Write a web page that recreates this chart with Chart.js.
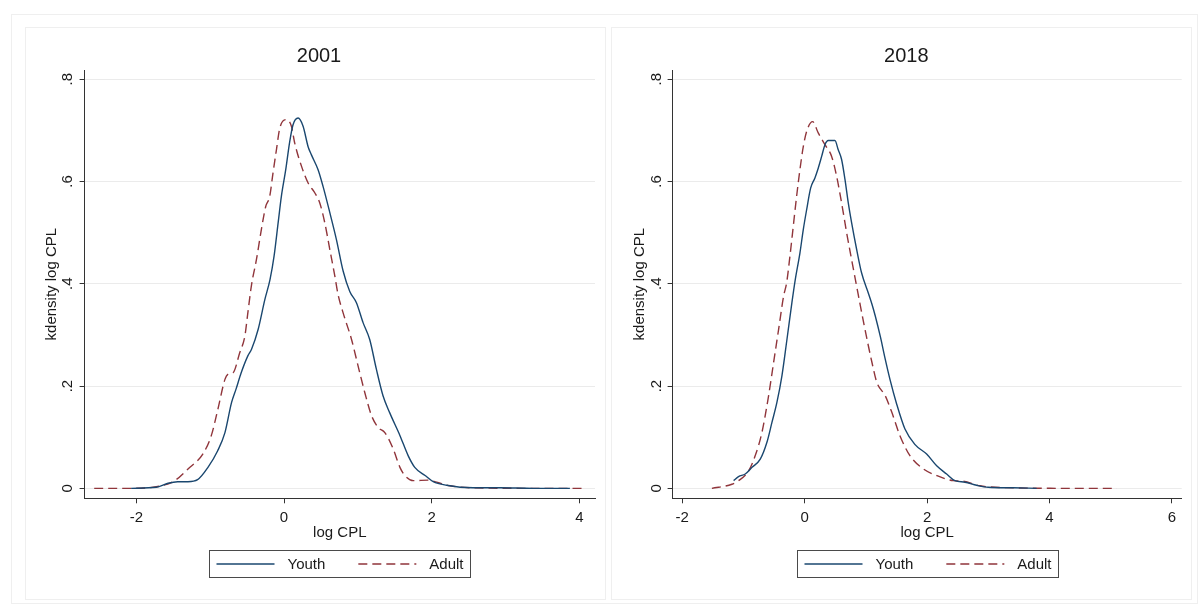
<!DOCTYPE html>
<html>
<head>
<meta charset="utf-8">
<title>kdensity log CPL</title>
<script src="https://cdn.jsdelivr.net/npm/chart.js@4"></script>
<style>
  body { margin: 0; background: #fff; width: 1200px; height: 604px; position: relative; overflow: hidden; }
  .frame { position: absolute; border: 1px solid #efefef; box-sizing: border-box; }
  canvas { position: absolute; top: 0; }
</style>
</head>
<body>
<div class="frame" style="left:11px;top:14px;width:1187px;height:590px;"></div>
<div class="frame" style="left:25px;top:27px;width:581px;height:573px;"></div>
<div class="frame" style="left:611px;top:27px;width:581px;height:573px;"></div>
<canvas id="chart2001" width="600" height="604" style="left:0"></canvas>
<canvas id="chart2018" width="600" height="604" style="left:600px"></canvas>
<script>
/* DATA */
const youth2001X = [-2.07,-1.73,-1.57,-1.44,-1.30,-1.17,-1.03,-0.90,-0.80,-0.71,-0.65,-0.58,-0.49,-0.44,-0.35,-0.26,-0.19,-0.135,-0.08,-0.036,0.023,0.077,0.122,0.19,0.258,0.326,0.371,0.461,0.529,0.62,0.71,0.80,0.89,0.98,1.07,1.16,1.25,1.34,1.43,1.57,1.68,1.77,1.91,2.02,2.20,2.56,2.93,3.38,3.87];
const youth2001Y = [0,0.002,0.010,0.013,0.013,0.017,0.041,0.073,0.109,0.168,0.194,0.226,0.259,0.272,0.311,0.369,0.408,0.454,0.519,0.571,0.623,0.678,0.711,0.724,0.708,0.668,0.652,0.623,0.590,0.539,0.486,0.425,0.385,0.363,0.324,0.291,0.233,0.181,0.148,0.103,0.064,0.041,0.025,0.013,0.006,0.001,0.001,0,0];

const adult2001X = [-2.57,-2.02,-1.66,-1.48,-1.30,-1.10,-0.985,-0.895,-0.80,-0.76,-0.69,-0.60,-0.53,-0.49,-0.44,-0.374,-0.307,-0.248,-0.194,-0.149,-0.103,-0.058,0.023,0.10,0.145,0.236,0.326,0.416,0.484,0.552,0.62,0.688,0.73,0.80,0.914,1.003,1.094,1.185,1.275,1.365,1.478,1.569,1.637,1.75,1.953,2.066,2.247,2.56,3.2,4.08];
const adult2001Y = [0,0,0.005,0.015,0.038,0.067,0.103,0.155,0.213,0.223,0.226,0.265,0.298,0.343,0.398,0.447,0.506,0.551,0.571,0.617,0.662,0.704,0.721,0.708,0.675,0.63,0.597,0.578,0.558,0.519,0.467,0.415,0.38,0.343,0.291,0.239,0.187,0.142,0.119,0.109,0.077,0.041,0.025,0.015,0.016,0.012,0.005,0.001,0,0];

const youth2018X = [-1.16,-1.08,-0.97,-0.86,-0.725,-0.616,-0.534,-0.453,-0.371,-0.289,-0.208,-0.153,-0.077,-0.022,0.033,0.098,0.168,0.222,0.278,0.332,0.386,0.495,0.549,0.604,0.659,0.713,0.768,0.85,0.931,1.04,1.10,1.154,1.24,1.312,1.394,1.503,1.639,1.80,1.993,2.157,2.32,2.456,2.62,2.81,3.0,3.41,3.79];
const youth2018Y = [0.015,0.023,0.028,0.041,0.057,0.09,0.129,0.168,0.22,0.291,0.363,0.408,0.460,0.506,0.545,0.587,0.607,0.626,0.649,0.672,0.680,0.680,0.662,0.643,0.604,0.558,0.519,0.467,0.421,0.382,0.36,0.337,0.295,0.255,0.213,0.165,0.116,0.086,0.067,0.044,0.028,0.015,0.012,0.006,0.002,0.001,0];

const adult2018X = [-1.515,-1.188,-1.08,-0.915,-0.807,-0.698,-0.589,-0.507,-0.425,-0.343,-0.294,-0.24,-0.186,-0.131,-0.077,-0.022,0.033,0.13,0.222,0.332,0.441,0.523,0.604,0.686,0.768,0.85,0.964,1.10,1.18,1.317,1.42,1.557,1.72,1.938,2.157,2.428,2.59,2.865,3.41,4.2,5.10];
const adult2018Y = [0,0.008,0.015,0.034,0.064,0.109,0.181,0.246,0.311,0.376,0.402,0.454,0.512,0.571,0.623,0.668,0.698,0.717,0.695,0.672,0.649,0.610,0.558,0.50,0.447,0.395,0.324,0.246,0.207,0.181,0.15,0.103,0.064,0.038,0.025,0.015,0.014,0.005,0.001,0,0];

// Tick values and labels
const yTickValues = [0, 0.2, 0.4, 0.6, 0.8];
const yTickLabels = ['0', '.2', '.4', '.6', '.8'];
const xTicks2001 = [-2, 0, 2, 4];
const xTicks2018 = [-2, 0, 2, 4, 6];

const seriesNames = ['Youth', 'Adult'];
const FONT = 'Arial, "Liberation Sans", sans-serif';
const TEXT = '#1a1a1a';

Chart.defaults.font.family = FONT;
Chart.defaults.color = TEXT;

/*****************************************************************/

/* LEGEND WITH A BOX ROUND IT */
const boxLegend = {
    id: 'boxLegend',
    afterDraw(chart) {
        const ctx = chart.ctx;
        const area = chart.chartArea;
        const sets = chart.data.datasets;
        const sample = 58, gap = 13, between = 33, inner = 7, h = 27;

        ctx.save();
        ctx.font = '15px ' + FONT;
        const widths = sets.map(ds => ctx.measureText(ds.label).width);
        let total = inner * 2 + between * (sets.length - 1);
        widths.forEach(w => total += sample + gap + w);
        total = Math.round(total);

        const left = Math.round((area.left + area.right) / 2 - total / 2) + 0.5;
        const top = chart.height - 53.5;
        ctx.strokeStyle = '#4a4a4a';
        ctx.lineWidth = 1;
        ctx.strokeRect(left, top, total, h);

        let x = left + inner;
        const yMid = top + h / 2;
        sets.forEach((ds, i) => {
            ctx.strokeStyle = ds.borderColor;
            ctx.lineWidth = ds.borderWidth;
            ctx.setLineDash(ds.borderDash || []);
            ctx.beginPath();
            ctx.moveTo(x, yMid);
            ctx.lineTo(x + sample, yMid);
            ctx.stroke();
            ctx.setLineDash([]);
            x += sample + gap;
            ctx.fillStyle = TEXT;
            ctx.textBaseline = 'middle';
            ctx.fillText(ds.label, x, yMid + 0.5);
            x += widths[i] + between;
        });
        ctx.restore();
    }
};

/*****************************************************************/

/* ONE PANEL */
function toPoints(xs, ys) {
    return xs.map((x, i) => ({ x: x, y: ys[i] }));
}

function makePanel(canvasId, year, youthX, youthY, adultX, adultY, xTicks, xMin, xMax, pad) {
    const context = document.getElementById(canvasId).getContext('2d');
    return new Chart(context, {
        type: 'line',
        data: {
            datasets: [{
                label: seriesNames[0],
                data: toPoints(youthX, youthY),
                borderColor: '#1a476f',
                borderWidth: 1.4,
                pointRadius: 0,
                cubicInterpolationMode: 'monotone',
                fill: false
            }, {
                label: seriesNames[1],
                data: toPoints(adultX, adultY),
                borderColor: '#90353b',
                borderWidth: 1.4,
                borderDash: [9, 5],
                pointRadius: 0,
                cubicInterpolationMode: 'monotone',
                fill: false
            }]
        },
        options: {
            responsive: false,
            animation: false,
            devicePixelRatio: 1,
            layout: { padding: { left: pad.left, right: pad.right, top: 44, bottom: 63.5 } },
            plugins: {
                legend: { display: false },
                tooltip: { enabled: false },
                title: {
                    display: true,
                    text: year,
                    color: TEXT,
                    font: { size: 20, weight: 'normal', lineHeight: 1.2 },
                    padding: { top: 0, bottom: 2 }
                }
            },
            scales: {
                x: {
                    type: 'linear',
                    min: xMin,
                    max: xMax,
                    afterBuildTicks: axis => { axis.ticks = xTicks.map(v => ({ value: v })); },
                    grid: { drawOnChartArea: false, drawTicks: true, tickLength: 5, tickColor: '#333' },
                    border: { display: true, color: '#333', width: 1 },
                    ticks: {
                        color: TEXT,
                        padding: 7.5,
                        maxRotation: 0,
                        font: { size: 15, lineHeight: 1 },
                        callback: v => String(v)
                    },
                    title: {
                        display: true,
                        text: 'log CPL',
                        color: TEXT,
                        font: { size: 15, lineHeight: 1 },
                        padding: { top: -7.8, bottom: 0 }
                    }
                },
                y: {
                    type: 'linear',
                    min: -0.0195,
                    max: 0.818,
                    afterBuildTicks: axis => { axis.ticks = yTickValues.map(v => ({ value: v })); },
                    grid: { color: '#ebebeb', lineWidth: 1, drawTicks: true, tickLength: 5, tickColor: '#333' },
                    border: { display: true, color: '#333', width: 1 },
                    ticks: {
                        color: TEXT,
                        padding: pad.tickPad,
                        minRotation: 90,
                        maxRotation: 90,
                        crossAlign: 'center',
                        font: { size: 15, lineHeight: 1 },
                        callback: v => yTickLabels[yTickValues.findIndex(t => Math.abs(t - v) < 1e-9)]
                    },
                    title: {
                        display: true,
                        text: 'kdensity log CPL',
                        color: TEXT,
                        font: { size: 15, lineHeight: 1.2 },
                        padding: { top: 0, bottom: pad.titleBottom }
                    }
                }
            }
        },
        plugins: [boxLegend]
    });
}

makePanel('chart2001', '2001', youth2001X, youth2001Y, adult2001X, adult2001Y,
    xTicks2001, -2.70, 4.21, { left: 43, right: 5, tickPad: 5.2, titleBottom: -6.8 });
makePanel('chart2018', '2018', youth2018X, youth2018Y, adult2018X, adult2018Y,
    xTicks2018, -2.157, 6.16, { left: 31, right: 18.3, tickPad: 4.2, titleBottom: -4.8 });
</script>
</body>
</html>
